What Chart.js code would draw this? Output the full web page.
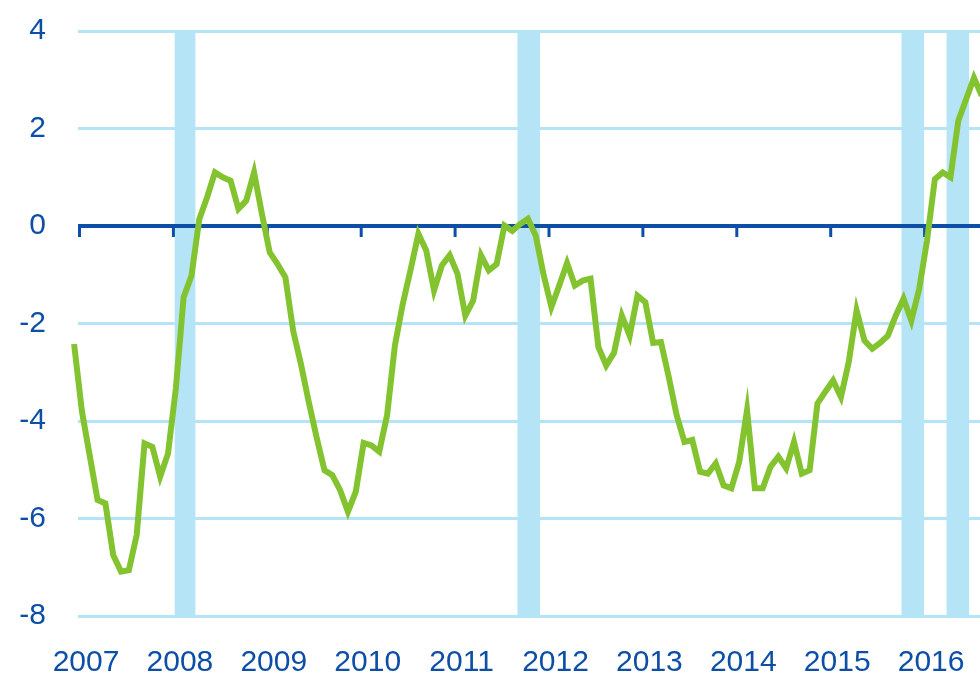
<!DOCTYPE html>
<html>
<head>
<meta charset="utf-8">
<script src="https://cdn.jsdelivr.net/npm/chart.js@4"></script>
<style>
  body { margin: 0; background: #ffffff; }
  #wrap { width: 980px; height: 675px; position: relative; }
</style>
</head>
<body>
<div id="wrap"><canvas id="indexChart"></canvas></div>
<script>
// monthly series, first value = Dec 2006
const startYear = 2006;
const startMonth = 12;
const values = [
  -2.42, -3.8, -4.71, -5.62, -5.69, -6.75, -7.09, -7.06, -6.34, -4.46, -4.53, -5.14,
  -4.67, -3.34, -1.46, -1.02, 0.14, 0.59, 1.10, 1.0, 0.93, 0.35, 0.52, 1.10,
  0.25, -0.54, -0.78, -1.05, -2.15, -2.84, -3.62, -4.34, -5.01, -5.11, -5.42, -5.86,
  -5.45, -4.45, -4.5, -4.63, -3.88, -2.45, -1.6, -0.9, -0.16, -0.5, -1.32, -0.81,
  -0.6, -0.98, -1.84, -1.53, -0.6, -0.91, -0.78, 0.01, -0.1, 0.04, 0.15, -0.2,
  -1.0, -1.66, -1.22, -0.76, -1.22, -1.12, -1.08, -2.48, -2.86, -2.6, -1.84, -2.25,
  -1.43, -1.56, -2.4, -2.38, -3.1, -3.88, -4.43, -4.39, -5.04, -5.08, -4.87, -5.32,
  -5.38, -4.84, -3.78, -5.38, -5.38, -4.94, -4.73, -4.97, -4.43, -5.08, -5.01, -3.64,
  -3.4, -3.17, -3.51, -2.79, -1.73, -2.35, -2.52, -2.4, -2.25, -1.84, -1.49, -1.94,
  -1.29, -0.3, 0.96, 1.10, 1.0, 2.16, 2.6, 3.04, 2.67
];
const yearTicks = [2007, 2008, 2009, 2010, 2011, 2012, 2013, 2014, 2015, 2016];
const yTicks = [-8, -6, -4, -2, 0, 2, 4];
// shaded periods (start, end) in decimal years
const shadedPeriods = [
  [2008.03, 2008.25],
  [2011.68, 2011.92],
  [2015.77, 2016.01],
  [2016.25, 2016.49]
];

const blue = '#0d4fa6';
const gridBlue = '#b5e4f7';
const green = '#84c330';

// points placed mid-month
let points = [];
for (let i = 0; i < values.length; i++) {
  points.push({ x: startYear + (startMonth - 1 + i + 0.5) / 12, y: values[i] });
}

const shadingPlugin = {
  id: 'shading',
  beforeDraw(chart) {
    const ctx = chart.ctx;
    const xs = chart.scales.x;
    const area = chart.chartArea;
    ctx.save();
    ctx.fillStyle = gridBlue;
    for (let p of shadedPeriods) {
      const x1 = xs.getPixelForValue(p[0]);
      const x2 = xs.getPixelForValue(p[1]);
      ctx.fillRect(x1, area.top, x2 - x1, area.bottom - area.top);
    }
    ctx.restore();
  }
};

// little year marks hanging under the zero line
const zeroTicksPlugin = {
  id: 'zeroTicks',
  beforeDatasetsDraw(chart) {
    const ctx = chart.ctx;
    const xs = chart.scales.x;
    const y0 = chart.scales.y.getPixelForValue(0);
    ctx.save();
    ctx.strokeStyle = blue;
    ctx.lineWidth = 3;
    for (let yr of yearTicks) {
      const x = xs.getPixelForValue(yr);
      ctx.beginPath();
      ctx.moveTo(x + 1.5, y0);
      ctx.lineTo(x + 1.5, y0 + 11);
      ctx.stroke();
    }
    ctx.restore();
  }
};

new Chart(document.getElementById('indexChart'), {
  type: 'line',
  data: {
    datasets: [{
      data: points,
      borderColor: green,
      borderWidth: 6,
      pointRadius: 0,
      tension: 0,
      clip: 8
    }]
  },
  options: {
    responsive: true,
    maintainAspectRatio: false,
    animation: false,
    layout: { padding: { top: 31, right: 0, left: 0, bottom: 0 } },
    plugins: {
      legend: { display: false },
      tooltip: { enabled: false }
    },
    scales: {
      x: {
        type: 'linear',
        min: 2007,
        max: 2016.606,
        afterBuildTicks: (scale) => { scale.ticks = yearTicks.map(v => ({ value: v })); },
        afterFit: (scale) => {
          scale.height = 59;
          scale.paddingLeft = 0;
          scale.paddingRight = 0;
        },
        grid: { display: false, drawTicks: false },
        border: { display: false },
        ticks: {
          color: blue,
          padding: 29,
          labelOffset: 8,
          maxRotation: 0,
          autoSkip: false,
          font: { family: 'Liberation Sans, Arial, sans-serif', size: 30 },
          callback: (v) => String(v)
        }
      },
      y: {
        min: -8,
        max: 4,
        afterBuildTicks: (scale) => { scale.ticks = yTicks.map(v => ({ value: v })); },
        afterFit: (scale) => {
          scale.width = 78;
          scale.paddingTop = 0;
          scale.paddingBottom = 0;
        },
        grid: {
          drawTicks: false,
          color: (c) => c.tick && c.tick.value === 0 ? blue : gridBlue,
          lineWidth: (c) => c.tick && c.tick.value === 0 ? 4 : 3
        },
        border: { display: false },
        ticks: {
          color: blue,
          padding: 32,
          font: { family: 'Liberation Sans, Arial, sans-serif', size: 30 },
          callback: (v) => String(v)
        }
      }
    }
  },
  plugins: [shadingPlugin, zeroTicksPlugin]
});
</script>
</body>
</html>
